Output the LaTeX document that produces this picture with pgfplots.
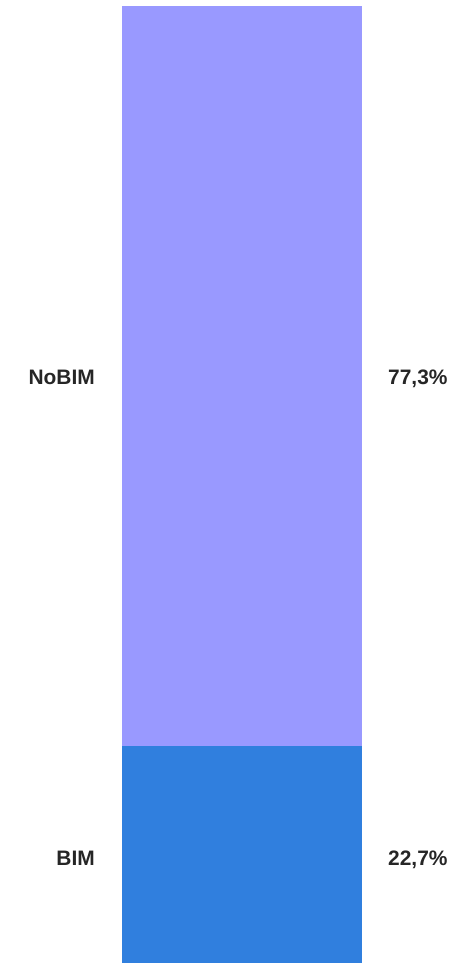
\documentclass[border=0pt]{standalone}
\usepackage{pgfplots}
\pgfplotsset{compat=1.18}
\usepackage{fontspec}
\setmainfont{Liberation Sans}
\definecolor{nobim}{RGB}{153,153,255}
\definecolor{bim}{RGB}{48,127,222}
\tikzset{lbl/.style={font=\fontsize{21}{24}\selectfont\bfseries, text=black!85, inner sep=0pt}}
\begin{document}
\begin{tikzpicture}
\begin{axis}[
    width=470bp, height=963bp, scale only axis,
    xmin=0, xmax=470,
    ymin=0, ymax=100.627,
    axis lines=none, ticks=none,
    ybar stacked, bar width=240,
    clip=false,
]
\path (rel axis cs:0,0) rectangle (rel axis cs:1,1);
\addplot[fill=bim, draw=none] coordinates {(242,22.7)};
\addplot[fill=nobim, draw=none] coordinates {(242,77.3)};
\node[lbl, anchor=base east] at (axis cs:95,60.4) {NoBIM};
\node[lbl, anchor=base west] at (axis cs:388,60.4) {77,3\%};
\node[lbl, anchor=base east] at (axis cs:95,10.24) {BIM};
\node[lbl, anchor=base west] at (axis cs:388,10.24) {22,7\%};
\end{axis}
\end{tikzpicture}
\end{document}
